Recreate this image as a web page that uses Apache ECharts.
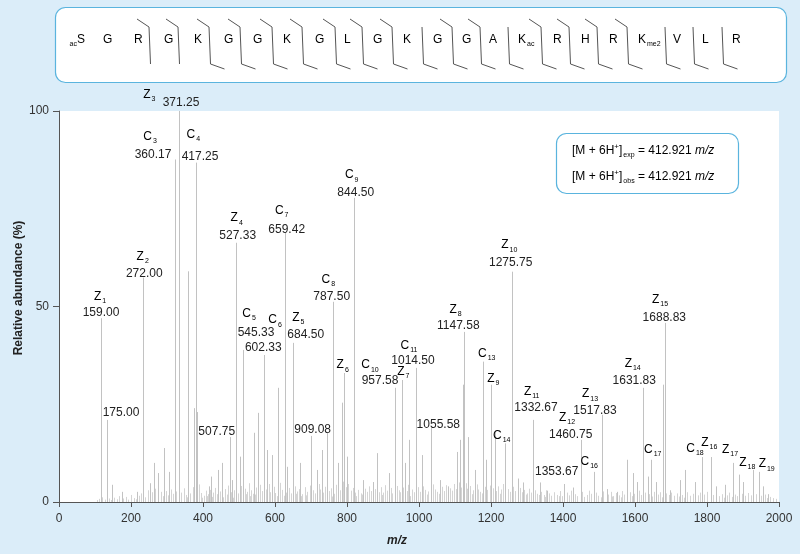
<!DOCTYPE html>
<html><head><meta charset="utf-8">
<script src="https://cdn.jsdelivr.net/npm/echarts@6/dist/echarts.min.js"></script>
<style>html,body{margin:0;padding:0;background:#dbedf9;}#c{width:800px;height:554px;}</style>
</head><body><div id="c"></div>
<script>
// ---- data ----
const xTicks = [0, 2000, 200];
const yTicks = [0, 100, 50];
const peaks = [
[116,47],[133,21],[146,4.4],[175,2.6],[217,2.6],[233,57.4],[254,4.8],[263,10],[274,7.4],[291,13.8],[305,7.7],[322,87.6],[333,100],[358,59],[376,24],[380,86.8],[383,23],[416,4],[422,6.5],[443,8.2],[454,10],[474,16.6],[480,5.6],[493,66.3],[503,11.6],[511,38.9],[542,17.7],[553,22.8],[569,37.6],[577,13.3],[591,12],[609,29.2],[627,68.9],[633,9],[651,40.7],[670,10],[700,16.9],[716,8.2],[730,13.3],[744,17.7],[760,51.2],[776,10],[786,25.4],[793,33],[799,11.6],[819,77.8],[844,5.6],[873,5.1],[883,12.5],[918,7.4],[932,29.2],[952,31.2],[961,10],[973,15.9],[991,34.3],[1007,12],[1033,18.9],[1058,5.6],[1081,4],[1106,12.8],[1114,15.9],[1121,30],[1126,43.5],[1137,16.6],[1155,8.2],[1178,35.9],[1186,10.8],[1199,30],[1211,18],[1240,15],[1258,58.9],[1275,6],[1289,5],[1317,21],[1336,5],[1355,2.9],[1403,4.6],[1428,3.7],[1449,15.9],[1485,7.7],[1507,22.3],[1521,3.3],[1549,2.6],[1579,10.8],[1594,7.4],[1606,5.1],[1622,29.2],[1636,6.5],[1645,10.8],[1659,5.1],[1678,30],[1682,45.8],[1697,3],[1724,5.6],[1738,8.2],[1767,5.1],[1786,11.5],[1811,11.5],[1826,4],[1849,4.4],[1871,10],[1888,7],[1900,5.1],[1929,8.2],[1945,7.7],[1955,4],[1969,2]
];
const noise = [
[105,0.5],[112,0.8],[120,1.2],[127,0.6],[138,0.9],[145,0.5],[152,1.1],[160,0.7],[168,1.5],[178,0.9],[185,1.3],[192,0.6],[200,1.8],[208,1.0],[214,0.7],[222,1.6],[228,2.2],[240,1.2],[246,3.0],[252,1.4],[258,2.5],[268,3.4],[276,1.9],[282,2.6],[288,1.5],[296,2.8],[302,1.7],[310,3.2],[316,2.1],[326,2.7],[340,2.4],[346,3.5],[352,1.8],[365,2.2],[372,3.8],[388,4.5],[395,2.3],[402,1.6],[408,2.9],[412,1.5],[420,3.1],[428,2.4],[434,3.6],[438,2.0],[448,2.7],[460,3.3],[466,1.9],[470,4.2],[478,2.5],[486,3.0],[498,2.2],[506,4.1],[516,3.4],[522,2.6],[528,4.8],[534,3.0],[538,2.1],[548,3.7],[558,4.4],[564,2.8],[574,3.2],[582,4.6],[586,2.5],[596,3.9],[600,2.3],[614,4.9],[620,3.1],[630,2.4],[638,3.6],[644,2.2],[656,4.0],[662,2.7],[666,3.3],[676,2.0],[682,3.8],[690,2.6],[696,4.2],[706,3.0],[712,2.2],[722,4.6],[726,3.2],[734,2.4],[740,3.9],[750,2.8],[756,3.5],[764,2.1],[770,4.4],[780,3.0],[790,5.2],[796,3.8],[804,4.6],[810,2.9],[816,3.6],[822,2.4],[830,3.1],[838,2.2],[850,3.4],[856,2.6],[862,4.0],[868,2.8],[878,3.3],[888,2.5],[894,3.8],[900,2.4],[906,4.3],[912,2.9],[922,3.6],[926,2.2],[938,4.1],[944,3.0],[948,2.5],[956,3.7],[966,2.8],[970,4.4],[980,3.2],[986,2.5],[996,3.8],[1002,2.6],[1012,4.0],[1018,3.1],[1026,2.7],[1038,4.5],[1044,3.2],[1050,2.6],[1064,3.9],[1070,2.8],[1076,4.3],[1086,3.5],[1092,2.9],[1098,4.6],[1102,3.3],[1110,5.0],[1118,3.7],[1130,4.8],[1134,3.4],[1142,4.1],[1150,3.0],[1160,4.5],[1164,3.2],[1170,2.6],[1182,3.9],[1190,3.1],[1196,4.2],[1206,3.5],[1214,2.8],[1220,4.0],[1228,3.2],[1234,4.6],[1246,3.3],[1252,2.6],[1262,3.9],[1268,2.8],[1280,3.6],[1286,2.5],[1292,3.1],[1300,2.2],[1306,3.4],[1312,2.4],[1322,3.0],[1328,2.1],[1340,2.6],[1346,1.8],[1354,3.0],[1362,2.2],[1368,1.6],[1376,2.5],[1384,1.8],[1392,2.8],[1398,1.5],[1410,2.4],[1416,1.7],[1422,2.9],[1434,2.0],[1440,1.5],[1452,2.6],[1466,1.8],[1472,2.9],[1478,2.1],[1492,2.4],[1498,1.6],[1512,2.7],[1526,1.9],[1532,2.6],[1540,1.5],[1548,2.3],[1556,1.7],[1564,2.8],[1570,1.9],[1586,2.5],[1598,2.1],[1612,2.9],[1616,1.8],[1628,2.4],[1640,2.0],[1652,2.6],[1664,1.9],[1670,2.5],[1686,2.2],[1694,1.8],[1700,2.4],[1708,1.6],[1716,2.2],[1730,1.8],[1744,2.5],[1752,1.6],[1760,2.1],[1774,1.7],[1780,2.4],[1792,1.9],[1800,2.6],[1818,1.8],[1826,2.3],[1834,1.5],[1842,2.0],[1856,1.7],[1862,2.4],[1878,1.9],[1884,1.5],[1896,2.1],[1906,1.6],[1914,2.3],[1922,1.7],[1936,2.0],[1950,1.6],[1962,1.9],[1976,1.3],[1984,1.0],[1992,0.8],
[355,1.2],[380,1.9],[398,1.1],[415,2.0],[425,1.3],[443,1.6],[455,1.2],[475,1.7],[483,1.1],[493,1.9],[511,1.4],[519,2.0],[531,1.5],[544,1.9],[553,1.3],[569,2.1],[579,1.4],[591,1.8],[605,1.5],[609,2.2],[625,1.6],[634,1.9],[651,1.4],[659,2.1],[671,1.5],[686,1.7],[700,1.4],[717,1.9],[731,1.3],[745,1.8],[759,1.4],[775,2.0],[785,1.6],[800,2.3],[826,1.5],[843,1.9],[860,1.4],[873,2.0],[883,1.6],[897,1.8],[916,1.5],[932,2.1],[952,1.7],[961,1.9],[976,1.5],[991,2.0],[1007,1.6],[1022,1.9],[1032,1.4],[1056,2.1],[1081,1.7],[1106,2.2],[1124,1.8],[1146,2.0],[1155,1.6],[1175,2.2],[1187,1.7],[1200,2.0],[1210,1.5],[1224,2.1],[1240,1.8],[1257,2.0],[1274,1.6],[1296,1.9],[1317,1.4],[1334,1.8],[1350,1.3],[1388,1.5],[1404,1.2],[1428,1.6],[1459,1.3],[1486,1.5],[1505,1.2],[1536,1.4],[1560,1.2],[1592,1.5],[1622,1.3],[1646,1.4],[1676,1.2],[1722,1.4],[1736,1.1],[1766,1.3],[1786,1.2],[1812,1.4],[1848,1.1],[1870,1.3],[1890,1.2],[1928,1.3],[1944,1.1],[1968,1.0]
];
// ion annotation: [ion, number, m/z anchor, % anchor]
const ionLabels = [
['Z','1',113.9,52.5],['Z','2',232.5,62.7],['Z','3',250.8,104.1],['C','3',252.8,93.4],['C','4',373.1,93.9],
['Z','4',493.6,72.6],['C','5',527.8,48.1],['C','6',600,46.5],['Z','5',664.7,47.2],['C','7',618.6,74.5],
['C','8',748.1,56.8],['C','9',813.1,83.6],['Z','6',788.1,35.0],['C','10',863.9,35.0],['Z','7',956.4,33.3],
['C','11',972.2,39.9],['Z','8',1101.4,49.1],['C','13',1188.1,38.0],['Z','9',1206.4,31.6],['C','14',1229.7,16.9],
['Z','10',1250.8,65.7],['Z','11',1313.1,28.2],['Z','12',1411.1,21.6],['Z','13',1475,27.6],['C','16',1473,10.3],
['Z','14',1593.6,35.5],['C','17',1649.2,13.3],['Z','15',1669.4,51.7],['C','18',1766.7,13.7],['Z','16',1806.4,15.2],
['Z','17',1863.9,13.3],['Z','18',1912,10.1],['Z','19',1965.8,9.7]
];
// value annotation: [text, m/z anchor, % anchor]
const valueLabels = [
['371.25',338.9,102.0],['360.17',261.1,88.7],['417.25',391.7,88.3],['272.00',236.9,58.5],['159.00',116.7,48.3],
['527.33',496.4,68.1],['659.42',632.5,69.7],['787.50',757.5,52.5],['844.50',824.2,79.1],['545.33',547.2,43.4],
['602.33',567.5,39.5],['684.50',685.3,42.7],['957.58',891.7,30.9],['1014.50',983.3,36.1],['1147.58',1109.2,45.0],
['1275.75',1254.7,61.2],['1332.67',1325,24.0],['1460.75',1421.4,17.1],['1517.83',1488.9,23.3],['1631.83',1598,30.9],
['1688.83',1681.4,47.2],['175.00',172.2,22.8],['507.75',438.1,18.0],['909.08',704.7,18.6],['1055.58',1053.6,19.7],
['1353.67',1382.5,7.7]
];
const residues = ['S','G','R','G','K','G','G','K','G','L','G','K','G','G','A','K','R','H','R','K','V','L','R'];
const residueMods = ['ac','','','','','','','','','','','','','','','ac','','','','me2','','',''];
const cSites = [3,4,5,6,7,8,9,10,11,13,14,16,17,18,19];
const zSites = [5,6,7,8,9,10,11,12,13,14,15,16,17,18,19,20,21,22];
const massLines = [['exp','412.921'],['obs','412.921']];

// ---- layout ----
const FONT = '"Liberation Sans", Arial, Helvetica, sans-serif';
const TXT = '#222';
const resX = [81,107,138,168,198,228,257,287,319,348,377,407,437,466,493,522,557,585,613,642,677,706,736];
const bndX = {3:149,4:178,5:209,6:240,7:272,8:302,9:335,10:362,11:392,12:422,13:452,14:480,15:508,16:541,17:569,18:597,19:627,20:665,21:693,22:722};
const richIon = {
  a:{fontSize:12,fontFamily:FONT,color:TXT,lineHeight:16},
  s:{fontSize:7,fontFamily:FONT,color:TXT,lineHeight:5,verticalAlign:'bottom',padding:[0,0,0,1]},
  p:{fontSize:8,fontFamily:FONT,color:TXT,lineHeight:7,verticalAlign:'top'},
  i:{fontSize:12,fontFamily:FONT,color:TXT,lineHeight:16,fontStyle:'italic'}
};
const graphics = [];
graphics.push({type:'rect',shape:{x:55.5,y:7.5,width:731,height:75,r:10},style:{fill:'#fff',stroke:'#5ab4de',lineWidth:1.2}});
residues.forEach((r,i)=>{
  const m = residueMods[i];
  let t = '{a|'+r+'}';
  if (m) t = i===0 ? '{s|'+m+'}{a|'+r+'}' : '{a|'+r+'}{s|'+m+'}';
  graphics.push({type:'text',x: i===0 ? resX[i]+4 : resX[i]-4, y:40,
    style:{text:t,rich:richIon,align:i===0?'right':'left',verticalAlign:'middle'}});
});
const LS = {stroke:'#555',lineWidth:1};
Object.keys(bndX).forEach(k=>{
  const b = +k, x = bndX[b];
  const hasC = cSites.includes(b), hasZ = zSites.includes(b);
  const pts = [];
  if (hasC) pts.push([x-12,19]);
  pts.push([x, 27]);
  pts.push([x+1.5, 64]);
  if (hasZ) pts.push([x+15.5,69]);
  graphics.push({type:'polyline',shape:{points:pts},style:Object.assign({fill:null},LS)});
});
// mass box
graphics.push({type:'rect',shape:{x:556.5,y:133.5,width:182,height:60,r:10},style:{fill:'#fff',stroke:'#5ab4de',lineWidth:1.2}});
massLines.forEach((m,i)=>{
  graphics.push({type:'text',x:572,y:151+i*26,style:{
    text:'{a|[M + 6H}{p|+}{a|]}{s|'+m[0]+'} {a|= '+m[1]+' }{i|m/z}',rich:richIon,align:'left',verticalAlign:'middle'}});
});
// axis titles
graphics.push({type:'text',x:19,y:288,rotation:Math.PI/2,style:{text:'Relative abundance (%)',font:'bold 12px '+FONT,fill:TXT,align:'center',verticalAlign:'middle'}});
graphics.push({type:'text',x:397,y:541,style:{text:'m/z',font:'italic bold 12px '+FONT,fill:TXT,align:'center',verticalAlign:'middle'}});

const chart = echarts.init(document.getElementById('c'), null, {renderer:'canvas'});
const stick = (color)=> (params, api)=>{
  const p0 = api.coord([api.value(0),0]);
  const p1 = api.coord([api.value(0),api.value(1)]);
  const x = Math.round(p0[0])+0.5;
  return {type:'line',shape:{x1:x,y1:p0[1],x2:x,y2:p1[1]},style:{stroke:color,lineWidth:1}};
};
const plain = v => String(v);
chart.setOption({
  animation:false,
  backgroundColor:'#dbedf9',
  grid:{left:59,right:21,top:111,bottom:52,show:true,backgroundColor:'#fff',borderWidth:0},
  xAxis:{type:'value',min:xTicks[0],max:xTicks[1],interval:xTicks[2],
    axisLine:{show:true,lineStyle:{color:'#555',width:1}},
    axisTick:{show:true,length:5,lineStyle:{color:'#555'}},
    splitLine:{show:false},
    axisLabel:{color:'#333',fontSize:12,fontFamily:FONT,margin:11,formatter:plain}},
  yAxis:{type:'value',min:yTicks[0],max:yTicks[1],interval:yTicks[2],
    axisLine:{show:true,lineStyle:{color:'#555',width:1}},
    axisTick:{show:true,length:6,lineStyle:{color:'#555'}},
    splitLine:{show:false},
    axisLabel:{color:'#333',fontSize:12,fontFamily:FONT,margin:10,formatter:plain}},
  graphic:graphics,
  series:[
    {type:'custom',data:noise,encode:{x:0,y:1},renderItem:stick('#d4d4d4'),silent:true,z:2},
    {type:'custom',data:peaks,encode:{x:0,y:1},renderItem:stick('#c2c2c2'),silent:true,z:3},
    {type:'custom',data:ionLabels.map(d=>[d[2],d[3]]),encode:{x:0,y:1},silent:true,z:5,clip:false,
      renderItem:(params,api)=>{
        const d = ionLabels[params.dataIndex];
        const p = api.coord([d[2],d[3]]);
        return {type:'text',x:p[0],y:p[1],style:{text:'{a|'+d[0]+'}{s|'+d[1]+'}',rich:richIon,align:'center',verticalAlign:'middle'}};
      }},
    {type:'custom',data:valueLabels.map(d=>[d[1],d[2]]),encode:{x:0,y:1},silent:true,z:5,clip:false,
      renderItem:(params,api)=>{
        const d = valueLabels[params.dataIndex];
        const p = api.coord([d[1],d[2]]);
        return {type:'text',x:p[0],y:p[1],style:{text:d[0],font:'12px '+FONT,fill:TXT,align:'center',verticalAlign:'middle'}};
      }}
  ]
});
</script></body></html>
